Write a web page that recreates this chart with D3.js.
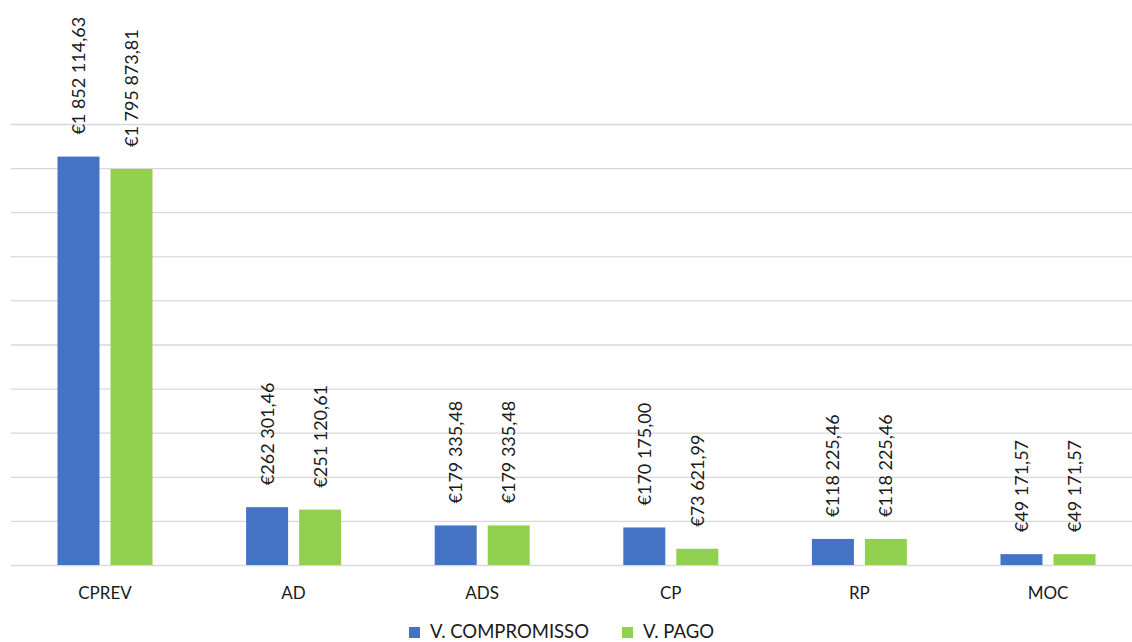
<!DOCTYPE html>
<html>
	<head>
		<meta charset="utf-8"/>
		<script type="text/javascript" src="https://cdn.jsdelivr.net/npm/d3@7/dist/d3.min.js"></script>
		<style>
			body {
				margin:0;
				background:#fff;
			}
			text {
				font-family:Lato, "Open Sans", sans-serif;
				fill:#1a1a1a;
			}
			.value_label {
				font-size:18px;
			}
			.cat_label {
				font-size:17px;
				text-anchor:middle;
			}
			.legend_text {
				font-size:18.5px;
			}
		</style>
	</head>
	<body>
		<script>
			var categories = ["CPREV", "AD", "ADS", "CP", "RP", "MOC"];
			var series = ["V. COMPROMISSO", "V. PAGO"];
			var compromisso = [1852114.63, 262301.46, 179335.48, 170175.00, 118225.46, 49171.57];
			var pago = [1795873.81, 251120.61, 179335.48, 73621.99, 118225.46, 49171.57];
			var y_ticks = [0, 200000, 400000, 600000, 800000, 1000000, 1200000, 1400000, 1600000, 1800000, 2000000];

			var width = 1132;
			var height = 642;
			var plot_left = 10.7;
			var plot_right = 1142.3;
			var plot_top = 124;
			var plot_bottom = 565;
			var group_width = 95;
			var colors = ["#4472C4", "#92D050"];

			var euro = d3.formatLocale({
				decimal: ",",
				thousands: " ",
				grouping: [3],
				currency: ["€", ""]
			}).format("$,.2f");

			var svg = d3.select("body").append("svg")
				.attr("width", width)
				.attr("height", height);

			var x0 = d3.scaleBand()
				.domain(categories)
				.range([plot_left, plot_right]);
			var x1 = d3.scaleBand()
				.domain(series)
				.range([0, group_width])
				.paddingInner(0.208);
			var y = d3.scaleLinear()
				.domain([0, 2000000])
				.range([plot_bottom, plot_top]);

			// gridlines
			var grid = svg.append("g")
				.attr("transform", "translate(" + plot_left + ",0)")
				.call(d3.axisLeft(y)
					.tickValues(y_ticks)
					.tickSize(-(plot_right - plot_left))
					.tickFormat(""));
			grid.select(".domain").remove();
			grid.selectAll(".tick line")
				.attr("stroke", "#d9d9d9")
				.attr("stroke-width", 1.3);

			var rows = categories.map(function(c, i) {
				return {cat: c, values: [compromisso[i], pago[i]]};
			});

			var groups = svg.selectAll(".group")
				.data(rows)
				.enter().append("g")
				.attr("class", "group")
				.attr("transform", function(d) {
					return "translate(" + (x0(d.cat) + x0.bandwidth() / 2 - group_width / 2) + ",0)";
				});

			groups.selectAll("rect")
				.data(function(d) { return d.values.map(function(v, j) { return {s: series[j], v: v, j: j}; }); })
				.enter().append("rect")
				.attr("x", function(d) { return x1(d.s); })
				.attr("y", function(d) { return y(d.v); })
				.attr("width", x1.bandwidth())
				.attr("height", function(d) { return plot_bottom - y(d.v); })
				.attr("fill", function(d) { return colors[d.j]; });

			groups.selectAll(".value_label")
				.data(function(d) { return d.values.map(function(v, j) { return {s: series[j], v: v}; }); })
				.enter().append("text")
				.attr("class", "value_label")
				.attr("transform", function(d) {
					return "translate(" + (x1(d.s) + x1.bandwidth() / 2 + 6.5) + "," + (y(d.v) - 22) + ") rotate(-90)";
				})
				.text(function(d) { return euro(d.v); });

			// category labels
			svg.selectAll(".cat_label")
				.data(categories)
				.enter().append("text")
				.attr("class", "cat_label")
				.attr("x", function(d) { return x0(d) + x0.bandwidth() / 2; })
				.attr("y", 599)
				.text(function(d) { return d; });

			// legend
			var legend_x = [409, 622];
			var legend = svg.selectAll(".legend")
				.data(series)
				.enter().append("g")
				.attr("class", "legend")
				.attr("transform", function(d, i) { return "translate(" + legend_x[i] + ",627)"; });
			legend.append("rect")
				.attr("width", 11)
				.attr("height", 11)
				.attr("fill", function(d, i) { return colors[i]; });
			legend.append("text")
				.attr("class", "legend_text")
				.attr("x", 21)
				.attr("y", 11)
				.text(function(d) { return d; });
		</script>
	</body>
</html>
